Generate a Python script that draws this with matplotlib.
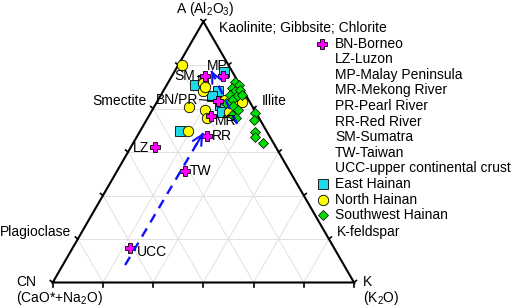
import matplotlib
matplotlib.use("Agg")
import matplotlib.pyplot as plt
import numpy as np

plt.rcParams['font.family'] = ['Liberation Sans', 'DejaVu Sans']
plt.rcParams['mathtext.fontset'] = 'custom'
plt.rcParams['mathtext.rm'] = 'Liberation Sans'
plt.rcParams['mathtext.it'] = 'Liberation Sans:italic'
plt.rcParams['mathtext.default'] = 'regular'

# ---------------- data (ternary %, A = Al2O3, K = K2O, CN = rest) -------------
ref_names = ["MP", "SM", "BN/PR", "MR", "RR", "TW", "LZ", "UCC"]
ref_A = [79.2, 79.2, 69.7, 63.9, 56.2, 42.8, 51.9, 13.1]
ref_K = [16.8, 10.8, 19.9, 20.6, 23.1, 22.5, 8.1, 19.1]

east_A = [58.1, 75.5, 80.6, 73.2, 71.3, 68.1, 65.5, 77.7]
east_K = [13.2, 9.5, 16.7, 18.4, 17.2, 21.5, 23.4, 11.1]

north_A = [83.4, 76.4, 73.2, 67.4, 66.2, 63.0, 58.1, 68.7, 69.0, 65.5, 70.0, 75.1]
north_K = [1.2, 11.8, 13.4, 11.4, 17.5, 19.7, 15.7, 25.5, 28.3, 25.6, 22.2, 13.1]

sw_A = [77.0, 75.8, 74.5, 73.2, 71.9, 71.3, 70.0, 73.8, 67.7, 66.2, 64.3, 63.1,
        68.9, 71.9, 64.9, 62.3, 57.8, 55.9, 53.6]
sw_K = [22.1, 23.8, 22.2, 24.0, 23.0, 25.5, 24.5, 25.3, 26.1, 28.5, 27.5, 29.4,
        23.2, 27.0, 34.7, 35.7, 38.1, 39.2, 43.0]

# weathering trends (start -> end), ternary %
trend_A = [(6.7, 57.3), (60.8, 81.1)]
trend_K = [(20.7, 21.3), (30.8, 12.1)]

legend_labels = ["BN-Borneo", "LZ-Luzon", "MP-Malay Peninsula", "MR-Mekong River",
                 "PR-Pearl River", "RR-Red River", "SM-Sumatra", "TW-Taiwan",
                 "UCC-upper continental crust", "East Hainan", "North Hainan",
                 "Southwest Hainan"]

mineral_labels = ["Kaolinite; Gibbsite; Chlorite", "Smectite", "Illite",
                  "Plagioclase", "K-feldspar"]

# ---------------- geometry (pixel frame) ----------------
X0, Y0, W = 52.7, 282.5, 301.3
H = W * np.sqrt(3) / 2


def tern(A, K):
    A = np.asarray(A, float)
    K = np.asarray(K, float)
    return X0 + W * (K + A / 2) / 100, Y0 - H * A / 100


fig = plt.figure(figsize=(5.12, 3.08), dpi=100)
ax = fig.add_axes([0, 0, 1, 1])
ax.set_xlim(0, 512)
ax.set_ylim(308, 0)
ax.axis('off')

# grid
gc = '#dcdcdc'
for k in range(1, 6):
    f = 100 * k / 6
    x, y = tern([f, f], [0, 100 - f]); ax.plot(x, y, color=gc, lw=0.6, zorder=1)
    x, y = tern([0, 100 - f], [f, f]); ax.plot(x, y, color=gc, lw=0.6, zorder=1)
    x, y = tern([0, 100 - f], [100 - f, 0]); ax.plot(x, y, color=gc, lw=0.6, zorder=1)

# triangle
x, y = tern([0, 0, 100, 0], [0, 100, 0, 0])
ax.plot(x, y, color='black', lw=1.5, zorder=2, solid_joinstyle='miter')
# ticks
tl = 4
for k in range(0, 7):
    f = 100 * k / 6
    bx, by = tern(0, f)
    ax.plot([bx, bx], [by, by + tl], color='black', lw=1.2, zorder=2)
    lx, ly = tern(f, 0)
    ax.plot([lx, lx - tl * 0.6], [ly, ly - tl * 0.5], color='black', lw=1.2, zorder=2)
    rx, ry = tern(f, 100 - f)
    ax.plot([rx, rx + tl * 0.6], [ry, ry - tl * 0.5], color='black', lw=1.2, zorder=2)

# data points
x, y = tern(east_A, east_K)
ax.plot(x, y, 's', ms=6.5, mfc='#1fd8e8', mec='black', mew=0.6, ls='none', zorder=3)
x, y = tern(north_A, north_K)
ax.plot(x, y, 'o', ms=7.5, mfc='#ffff00', mec='black', mew=0.6, ls='none', zorder=4)
x, y = tern(sw_A, sw_K)
ax.plot(x, y, 'D', ms=5, mfc='#00dd00', mec='black', mew=0.5, ls='none', zorder=5)
rx, ry = tern(ref_A, ref_K)
ax.plot(rx, ry, 'P', ms=7.5, mfc='#ff00ff', mec='black', mew=0.6, ls='none', zorder=7)

# trends (dashed line + arrow head), drawn above the markers
blue = '#1010ff'
for (a0, a1), (k0, k1) in zip(trend_A, trend_K):
    (xs, xe), (ys, ye) = tern([a0, a1], [k0, k1])
    ax.plot([xs, xe], [ys, ye], color=blue, lw=1.7, dashes=(4, 3), zorder=9)
    ax.annotate('', xy=(xe, ye), xytext=(xs + (xe - xs) * 0.9, ys + (ye - ys) * 0.9),
                arrowprops=dict(arrowstyle='->,head_length=0.5,head_width=0.25',
                                color=blue, lw=1.5, mutation_scale=14,
                                shrinkA=0, shrinkB=0),
                zorder=9)

# point labels (offsets in pixels from the marker, alignment)
lab_off = {"MP": (-16, -10, 'left'), "SM": (-9, 0, 'right'), "BN/PR": (-19, -1, 'right'),
           "MR": (4, 5, 'left'), "RR": (5, 0, 'left'), "TW": (5, 0, 'left'),
           "LZ": (-6, 1, 'right'), "UCC": (7, 4, 'left')}
fs = 10
for n, px, py in zip(ref_names, rx, ry):
    dx, dy, ha = lab_off[n]
    ax.text(px + dx, py + dy, n, ha=ha, va='center', fontsize=fs, zorder=10)
    if n in ("SM", "BN/PR"):
        ax.plot([px + dx + 1, px - 5], [py + dy, py], color='black', lw=0.8, zorder=6)

# vertex labels
ax.text(205, 9, 'A (Al$_2$O$_3$)', ha='center', va='center', fontsize=fs)
ax.text(16.5, 282, 'CN', ha='left', va='center', fontsize=fs)
ax.text(16.5, 298, '(CaO*+Na$_2$O)', ha='left', va='center', fontsize=fs)
ax.text(363, 282, 'K', ha='left', va='center', fontsize=fs)
ax.text(363, 298, '(K$_2$O)', ha='left', va='center', fontsize=fs)

# mineral labels
ax.text(219, 28, mineral_labels[0], ha='left', va='center', fontsize=fs)
ax.text(147, 101, mineral_labels[1], ha='right', va='center', fontsize=fs)
ax.text(262, 101, mineral_labels[2], ha='left', va='center', fontsize=fs)
ax.text(71, 232, mineral_labels[3], ha='right', va='center', fontsize=fs)
ax.text(337, 232, mineral_labels[4], ha='left', va='center', fontsize=fs)

# legend
ly0, dly = 43.5, 15.6
for i, lab in enumerate(legend_labels):
    ax.text(335, ly0 + i * dly, lab, ha='left', va='center', fontsize=fs)
ax.plot(322, ly0, 'P', ms=7.5, mfc='#ff00ff', mec='black', mew=0.6)
ax.plot(322.5, ly0 + 9 * dly, 's', ms=6.5, mfc='#1fd8e8', mec='black', mew=0.6)
ax.plot(322.5, ly0 + 10 * dly, 'o', ms=7.5, mfc='#ffff00', mec='black', mew=0.6)
ax.plot(322.5, ly0 + 11 * dly, 'D', ms=5, mfc='#00dd00', mec='black', mew=0.5)

fig.savefig('out.png', dpi=100)
